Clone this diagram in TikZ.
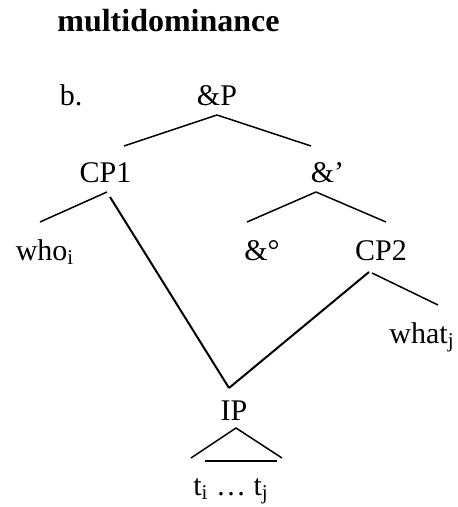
\documentclass[tikz,border=0pt]{standalone}
\usepackage{fontspec}
\setmainfont{Liberation Serif}
\usetikzlibrary{positioning}

\begin{document}
\begin{tikzpicture}
    [x=0.5pt,y=-0.5pt,
     every node/.style={inner sep=0pt, anchor=base, font=\fontsize{15}{18}\selectfont},
     branch/.style={line width=0.75pt},
     longbranch/.style={line width=1pt},
     spanbar/.style={line width=1.2pt}]
  \useasboundingbox (0,0) rectangle (457,507);

  \node[font=\fontsize{16}{19}\selectfont\bfseries] (title) at (168.5,32) {multidominance};
  \node (ex) at (71,106) {b.};
  \node (ap) at (217,106) {\&P};
  \node (cp1) at (105.5,183) {CP1};
  \node (abar) at (327.5,183) {\&’};
  \node (who) at (45,260) {who\textsubscript{i}};
  \node (ahead) at (262,260) {\&°};
  \node (cp2) at (381,260) {CP2};
  \node (what) at (422,343) {what\textsubscript{j}};
  \node (ip) at (234,420) {IP};
  \node (tt) at (231,495) {t\textsubscript{i} … t\textsubscript{j}};

  % top of the coordination
  \draw[branch] ([shift={(0,9)}]ap.base) -- ([shift={(18.5,-37)}]cp1.base);
  \draw[branch] ([shift={(0,9)}]ap.base) -- ([shift={(-16.5,-37)}]abar.base);
  \draw[branch] ([shift={(1.5,9)}]cp1.base) -- ([shift={(-5,-38)}]who.base);
  \draw[branch] ([shift={(-11.5,9)}]abar.base) -- ([shift={(-15,-38)}]ahead.base);
  \draw[branch] ([shift={(-11.5,9)}]abar.base) -- ([shift={(5,-38)}]cp2.base);
  \draw[branch] ([shift={(-9,13)}]cp2.base) -- ([shift={(16,-38)}]what.base);

  % shared IP
  \draw[longbranch] ([shift={(4.5,14)}]cp1.base) -- ([shift={(-5,-32)}]ip.base);
  \draw[longbranch] ([shift={(-12,12)}]cp2.base) -- ([shift={(-5,-32)}]ip.base);

  % triangle
  \draw[branch] ([shift={(-40,-37)}]tt.base) -- ([shift={(2,8)}]ip.base) -- ([shift={(51,-37)}]tt.base);
  \draw[spanbar] ([shift={(-26,-34)}]tt.base) -- ([shift={(46,-34)}]tt.base);
\end{tikzpicture}
\end{document}
